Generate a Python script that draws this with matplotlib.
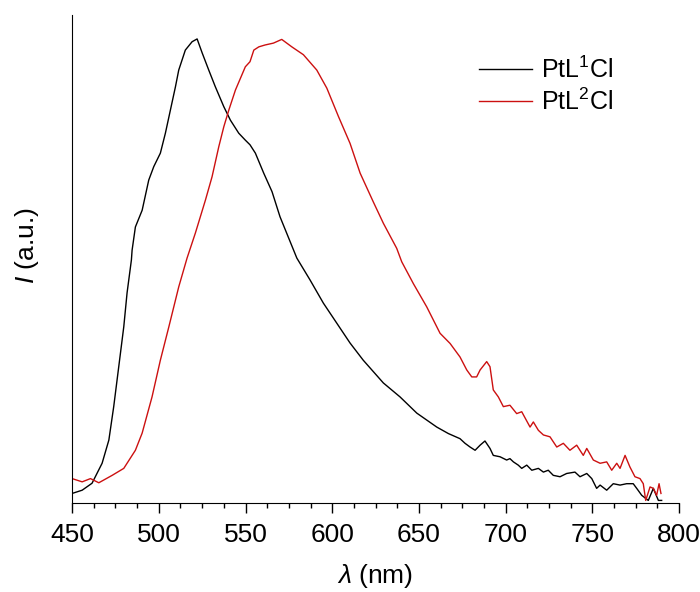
import matplotlib
matplotlib.use('Agg')
import matplotlib.pyplot as plt
from matplotlib.ticker import MultipleLocator

plt.rcParams['font.family'] = ['Liberation Sans', 'DejaVu Sans']
plt.rcParams['mathtext.fontset'] = 'custom'
plt.rcParams['mathtext.rm'] = 'Liberation Sans'
plt.rcParams['mathtext.it'] = 'Liberation Sans:italic'

# emission spectra, normalised intensity
wl_1 = [450, 455.8, 461.5, 467.3, 471.2, 474.0, 476.9, 479.8, 481.7, 484.2, 484.6, 486.5,
        490.4, 494.2, 497.1, 500.9, 503.8, 506.7, 509.6, 511.5, 515.3, 519.2, 522.1, 525.0,
        528.8, 532.6, 537.5, 541.3, 546.1, 549.9, 552.6, 555.7, 560.5, 565.3, 569.9, 579.6,
        587.2, 594.9, 602.6, 610.3, 617.9, 629.5, 639.1, 648.8, 660.3, 667.0,
        673.7, 676.6, 679.5, 682.4, 685.3, 688.1, 691.0, 692.9, 696.8, 700.6, 702.5, 704.5,
        707.3, 709.3, 712.2, 715.1, 718.9, 721.8, 724.6, 727.5, 731.4, 735.2, 740.0, 742.9,
        746.8, 749.7, 752.5, 754.5, 758.3, 762.1, 766.0, 769.8, 773.6, 775.6, 778.5, 782.3,
        785.2, 788.1, 790.0]
int_1 = [0.021, 0.028, 0.043, 0.086, 0.136, 0.208, 0.294, 0.380, 0.453, 0.524, 0.545, 0.595,
         0.631, 0.696, 0.725, 0.754, 0.797, 0.847, 0.897, 0.933, 0.976, 0.994, 1.000, 0.970,
         0.933, 0.897, 0.854, 0.825, 0.797, 0.782, 0.772, 0.754, 0.711, 0.671, 0.617, 0.528,
         0.481, 0.431, 0.388, 0.345, 0.308, 0.259, 0.229, 0.194, 0.164, 0.150,
         0.139, 0.129, 0.121, 0.114, 0.125, 0.134, 0.118, 0.103, 0.100, 0.093, 0.096, 0.089,
         0.082, 0.075, 0.082, 0.071, 0.075, 0.067, 0.071, 0.060, 0.057, 0.064, 0.067, 0.057,
         0.064, 0.053, 0.032, 0.039, 0.028, 0.042, 0.039, 0.042, 0.042, 0.032, 0.017, 0.006,
         0.032, 0.006, 0.006]

wl_2 = [450, 455.8, 460.6, 465.4, 473.1, 479.8, 486.5, 490.4, 496.1, 500.9, 505.8, 511.5,
        516.3, 521.1, 526.9, 530.7, 534.6, 537.5, 540.4, 544.2, 549.9, 552.6, 554.8, 557.7,
        561.3, 566.1, 570.9, 576.7, 583.4, 591.1, 596.9, 603.6, 610.3, 616.1, 623.7, 629.5,
        637.2, 640.1, 646.8, 654.5, 662.2, 668.0,
        673.7, 677.6, 680.5, 683.3, 685.3, 689.1, 691.0, 692.9, 695.8, 698.7, 702.5, 706.4,
        709.3, 714.1, 716.0, 718.9, 721.8, 725.6, 729.5, 733.3, 737.1, 741.0, 744.8, 746.8,
        750.6, 754.5, 758.3, 761.2, 764.1, 766.0, 768.9, 771.7, 774.6, 777.5, 779.4, 780.8,
        783.3, 785.2, 787.1, 788.5, 789.6]
int_2 = [0.053, 0.046, 0.053, 0.044, 0.060, 0.075, 0.114, 0.151, 0.229, 0.308, 0.380, 0.466,
         0.528, 0.582, 0.653, 0.703, 0.768, 0.811, 0.847, 0.890, 0.940, 0.951, 0.976, 0.983,
         0.987, 0.991, 0.999, 0.983, 0.966, 0.933, 0.894, 0.833, 0.775, 0.711, 0.649, 0.603,
         0.549, 0.520, 0.473, 0.423, 0.366, 0.344,
         0.315, 0.287, 0.272, 0.272, 0.287, 0.305, 0.294, 0.244, 0.229, 0.208, 0.211, 0.193,
         0.197, 0.164, 0.175, 0.157, 0.147, 0.143, 0.121, 0.129, 0.114, 0.125, 0.103, 0.118,
         0.093, 0.086, 0.089, 0.071, 0.086, 0.075, 0.103, 0.078, 0.057, 0.053, 0.042, 0.006,
         0.035, 0.032, 0.017, 0.042, 0.021]

labels = ['PtL$^1$Cl', 'PtL$^2$Cl']

fig = plt.figure(figsize=(7, 5.92), dpi=100)
ax = fig.add_axes([0.103, 0.150, 0.867, 0.825])

ax.plot(wl_1, int_1, color='black', lw=1.0, label=labels[0])
ax.plot(wl_2, int_2, color='#cc1010', lw=1.0, label=labels[1])

ax.set_xlim(450, 800)
ax.set_ylim(0, 1.052)
ax.xaxis.set_major_locator(MultipleLocator(50))
ax.xaxis.set_minor_locator(MultipleLocator(12.5))
ax.tick_params(axis='x', which='major', direction='out', length=7, width=1, labelsize=19, pad=7)
ax.tick_params(axis='x', which='minor', direction='out', length=3.5, width=1)
ax.set_yticks([])
ax.spines['top'].set_visible(False)
ax.spines['right'].set_visible(False)

ax.set_xlabel(r'$\mathit{\lambda}$ (nm)', fontsize=19, labelpad=11)
ax.set_ylabel(r'$\mathit{I}$ (a.u.)', fontsize=19)
ax.yaxis.set_label_coords(-0.052, 0.527)

ax.legend(loc='upper right', bbox_to_anchor=(0.928, 0.96), frameon=False, fontsize=18,
          handlelength=2.1, handletextpad=0.35, labelspacing=0.2)

fig.savefig('out.png', dpi=100)
